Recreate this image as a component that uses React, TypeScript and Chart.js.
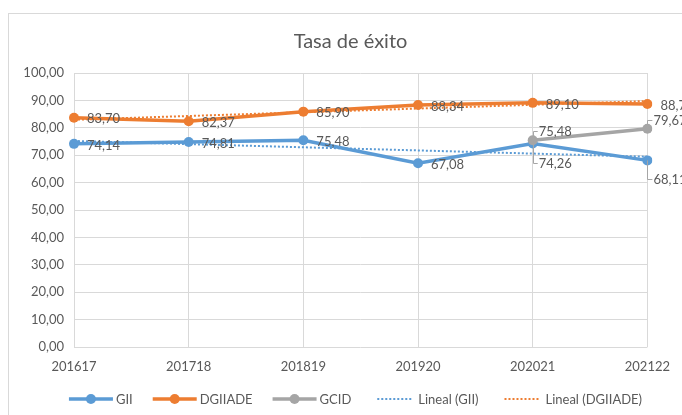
import React, { useEffect, useRef } from "react";
import { Chart, registerables } from "chart.js";

Chart.register(...registerables);

const categories = ["201617", "201718", "201819", "201920", "202021", "202122"];
const giiValues = [74.14, 74.81, 75.48, 67.08, 74.26, 68.11];
const dgiiadeValues = [83.7, 82.37, 85.9, 88.34, 89.1, 88.71];
const gcidValues = [null, null, null, null, 75.48, 79.67];
const giiTrend = [75.18, 74.04, 72.89, 71.74, 70.59, 69.44];
const dgiiadeTrend = [82.95, 84.31, 85.67, 87.03, 88.4, 89.76];
const seriesNames = ["GII", "DGIIADE", "GCID", "Lineal (GII)", "Lineal (DGIIADE)"];
const titleText = "Tasa de éxito";
const yMin = 0;
const yMax = 100;
const yStep = 10;

const FONT = "Lato, 'Noto Sans', sans-serif";
const BLUE = "#5b9bd5";
const ORANGE = "#ed7d31";
const GRAY = "#a5a5a5";
const TEXT = "#595959";
const GRID = "#d9d9d9";

const fmt = (v: number) => v.toFixed(2).replace(".", ",");

const labelsPlugin = {
  id: "dataLabels",
  afterDatasetsDraw(chart: any) {
    const ctx = chart.ctx;
    ctx.save();
    ctx.font = `13px ${FONT}`;
    ctx.fillStyle = TEXT;
    ctx.textBaseline = "middle";
    ctx.textAlign = "left";
    const ds = chart.data.datasets;
    [0, 1, 2].forEach((di) => {
      const meta = chart.getDatasetMeta(di);
      const data = ds[di].data;
      meta.data.forEach((pt: any, i: number) => {
        const v = data[i];
        if (v == null) return;
        const x = pt.x;
        const y = pt.y;
        const clash = di !== 1 && ds[0].data[i] != null && ds[2].data[i] != null;
        if (clash) {
          const up = di === 2;
          const ty = Math.round(up ? y - 9 : y + 19) + 0.5;
          ctx.strokeStyle = "#a6a6a6";
          ctx.lineWidth = 1;
          ctx.beginPath();
          ctx.moveTo(Math.round(x) + 0.5, y);
          ctx.lineTo(Math.round(x) + 0.5, ty);
          ctx.lineTo(x + 5, ty);
          ctx.stroke();
          ctx.fillText(fmt(v), x + 6, ty);
        } else {
          ctx.fillText(fmt(v), x + 13, y + 1.5);
        }
      });
    });
    ctx.restore();
  },
};

const decorPlugin = {
  id: "decor",
  afterDraw(chart: any) {
    const ctx = chart.ctx;
    ctx.save();
    // title
    ctx.font = `20px ${FONT}`;
    ctx.fillStyle = TEXT;
    ctx.textAlign = "center";
    ctx.textBaseline = "middle";
    ctx.fillText(titleText, chart.width / 2 + 5, 28);
    // legend
    ctx.font = `13px ${FONT}`;
    const colors = [BLUE, ORANGE, GRAY, BLUE, ORANGE];
    const lineW = 44;
    const gapText = 3;
    const gapItem = 20;
    const widths = seriesNames.map((n) => ctx.measureText(n).width);
    const total = widths.reduce((a, w) => a + lineW + gapText + w, 0) + gapItem * (seriesNames.length - 1);
    let x = chart.width / 2 + 10 - total / 2;
    const y = 385;
    seriesNames.forEach((name, i) => {
      ctx.strokeStyle = colors[i];
      ctx.fillStyle = colors[i];
      if (i < 3) {
        ctx.lineWidth = 3.5;
        ctx.setLineDash([]);
        ctx.beginPath();
        ctx.moveTo(x, y);
        ctx.lineTo(x + lineW, y);
        ctx.stroke();
        ctx.beginPath();
        ctx.arc(x + lineW / 2, y, 5, 0, Math.PI * 2);
        ctx.fill();
      } else {
        ctx.lineWidth = 2;
        ctx.setLineDash([2, 2]);
        ctx.beginPath();
        ctx.moveTo(x + 6, y);
        ctx.lineTo(x + lineW - 4, y);
        ctx.stroke();
        ctx.setLineDash([]);
      }
      ctx.fillStyle = TEXT;
      ctx.textAlign = "left";
      ctx.fillText(name, x + lineW + gapText, y + 1);
      x += lineW + gapText + widths[i] + gapItem;
    });
    ctx.restore();
  },
};

export default function App() {
  const ref = useRef<HTMLCanvasElement | null>(null);
  useEffect(() => {
    if (!ref.current) return;
    const lineDs = (label: string, data: any[], color: string, order: number) => ({
      label,
      data,
      borderColor: color,
      backgroundColor: color,
      borderWidth: 3.5,
      pointRadius: 5,
      pointHoverRadius: 5,
      pointBackgroundColor: color,
      pointBorderColor: color,
      pointBorderWidth: 0,
      tension: 0,
      spanGaps: false,
      order,
    });
    const trendDs = (label: string, data: any[], color: string, order: number) => ({
      label,
      data,
      borderColor: color,
      backgroundColor: color,
      borderWidth: 2,
      borderDash: [2, 2],
      pointRadius: 0,
      tension: 0,
      order,
    });
    const chart = new Chart(ref.current, {
      type: "line",
      data: {
        labels: categories,
        datasets: [
          lineDs(seriesNames[0], giiValues, BLUE, 3),
          lineDs(seriesNames[1], dgiiadeValues, ORANGE, 2),
          lineDs(seriesNames[2], gcidValues, GRAY, 1),
          trendDs(seriesNames[3], giiTrend, BLUE, 4),
          trendDs(seriesNames[4], dgiiadeTrend, ORANGE, 5),
        ] as any,
      },
      options: {
        animation: false,
        responsive: false,
        layout: { padding: { top: 59, right: 32, left: 0, bottom: 0 } },
        plugins: { legend: { display: false }, title: { display: false }, tooltip: { enabled: false } },
        scales: {
          x: {
            type: "category",
            offset: false,
            grid: { color: GRID, lineWidth: 1, drawTicks: false },
            border: { display: false },
            ticks: { color: TEXT, font: { family: FONT, size: 13 }, padding: 12, maxRotation: 0, autoSkip: false },
            afterFit: (s: any) => {
              s.height = 68;
            },
          },
          y: {
            min: yMin,
            max: yMax,
            grid: { color: GRID, lineWidth: 1, drawTicks: false },
            border: { display: false },
            ticks: {
              stepSize: yStep,
              color: TEXT,
              font: { family: FONT, size: 13 },
              padding: 10,
              callback: (v: any) => fmt(Number(v)),
            },
            afterFit: (s: any) => {
              s.width = 65;
            },
          },
        },
      } as any,
      plugins: [labelsPlugin, decorPlugin],
    });
    return () => chart.destroy();
  }, []);
  return (
    <div
      style={{
        position: "fixed",
        left: 8,
        top: 13,
        borderTop: `1px solid ${GRID}`,
        borderLeft: `1px solid ${GRID}`,
        width: 673,
        height: 401,
        background: "#fff",
      }}
    >
      <canvas ref={ref} width={673} height={401} style={{ display: "block", width: 673, height: 401 }} />
    </div>
  );
}
